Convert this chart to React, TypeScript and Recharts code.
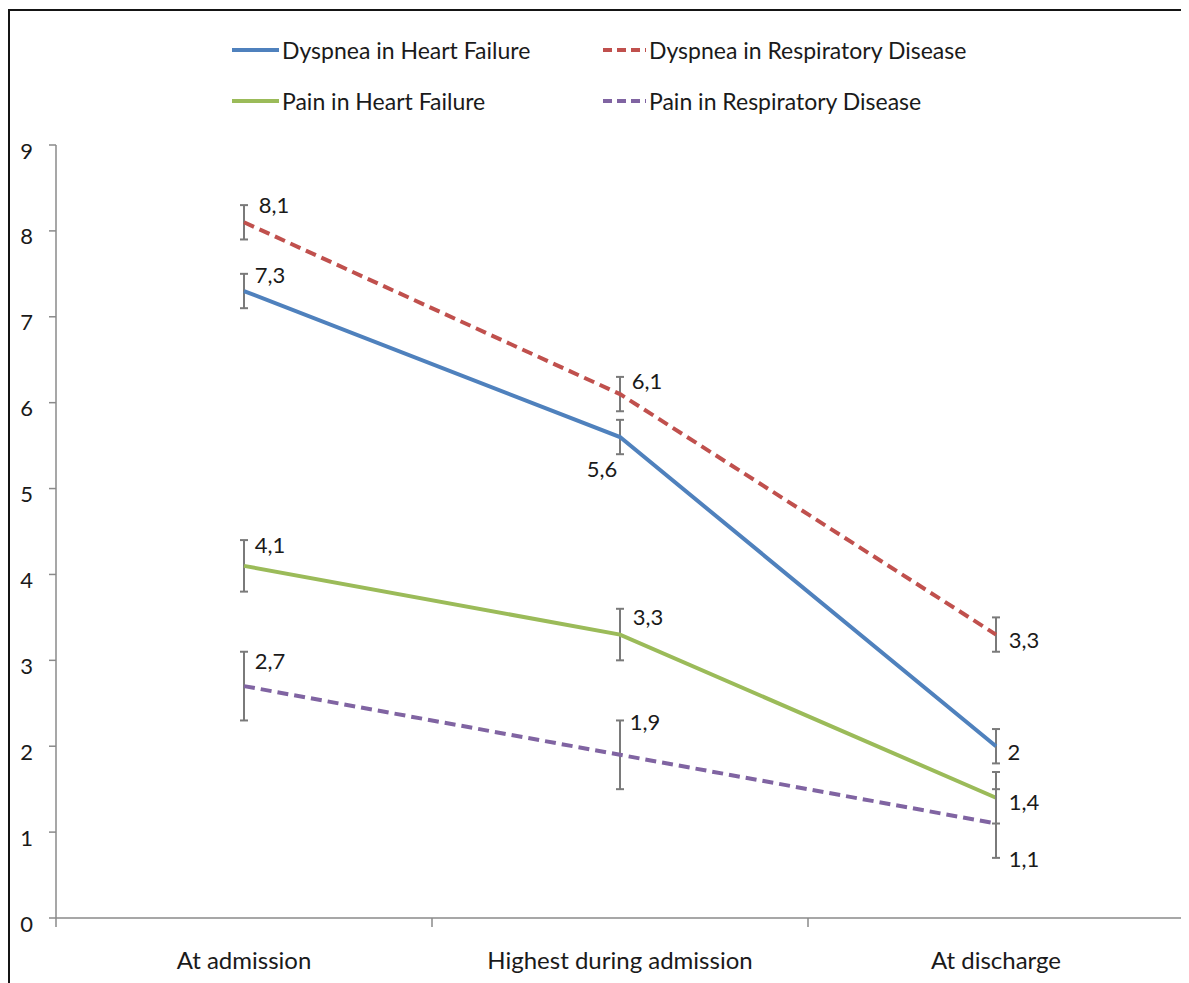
import React from "react";
import { LineChart, Line, XAxis, YAxis, ErrorBar, LabelList, Legend } from "recharts";

const categories = ["At admission", "Highest during admission", "At discharge"];
const dyspneaHeartFailure = [7.3, 5.6, 2.0];
const dyspneaRespiratory = [8.1, 6.1, 3.3];
const painHeartFailure = [4.1, 3.3, 1.4];
const painRespiratory = [2.7, 1.9, 1.1];
const errDyspneaHeartFailure = [0.2, 0.2, 0.2];
const errDyspneaRespiratory = [0.2, 0.2, 0.2];
const errPainHeartFailure = [0.3, 0.3, 0.3];
const errPainRespiratory = [0.4, 0.4, 0.4];
const yTicks = [0, 1, 2, 3, 4, 5, 6, 7, 8, 9];

const rows = categories.map((category, i) => ({
  category,
  dhf: dyspneaHeartFailure[i],
  dhfErr: errDyspneaHeartFailure[i],
  drd: dyspneaRespiratory[i],
  drdErr: errDyspneaRespiratory[i],
  phf: painHeartFailure[i],
  phfErr: errPainHeartFailure[i],
  prd: painRespiratory[i],
  prdErr: errPainRespiratory[i],
}));

const FONT = "Lato, 'Open Sans', sans-serif";
const W = 1179;
const H = 972;
const M = { top: 134, right: 5, left: 0, bottom: 5 };
const Y_W = 46;
const HALF_BAND = (W - M.left - M.right - Y_W) / categories.length / 2;
const AXIS = "#8a8a8a";
const ERR = "#7a7a7a";

const series = [
  { key: "dhf", name: "Dyspnea in Heart Failure", color: "#4f81bd", dash: undefined },
  { key: "drd", name: "Dyspnea in Respiratory Disease", color: "#c0504d", dash: "11 6" },
  { key: "phf", name: "Pain in Heart Failure", color: "#9bbb59", dash: undefined },
  { key: "prd", name: "Pain in Respiratory Disease", color: "#8064a2", dash: "11 6" },
];

// where each value label sits relative to its point
const labelOffsets: Record<string, [number, number][]> = {
  dhf: [[26, -17], [-18, 31], [18, 5]],
  drd: [[30, -18], [27, -14], [28, 5]],
  phf: [[26, -21], [28, -18], [28, 4]],
  prd: [[26, -26], [25, -33], [28, 35]],
};

const makeLabel = (key: string) => (props: any) => {
  const { x, y, value, index } = props;
  const [dx, dy] = labelOffsets[key][index];
  return (
    <text x={x + dx} y={y + dy} textAnchor="middle" dominantBaseline="central"
      fontFamily={FONT} fontSize={22} fill="#1a1a1a">
      {String(value).replace(".", ",")}
    </text>
  );
};

const XTick = (props: any) => {
  const { x, y, payload, index } = props;
  return (
    <g>
      <line x1={x - HALF_BAND} y1={y} x2={x - HALF_BAND} y2={y + 9} stroke={AXIS} strokeWidth={1.5} />
      {index === categories.length - 1 && (
        <line x1={x + HALF_BAND} y1={y} x2={x + HALF_BAND} y2={y + 9} stroke={AXIS} strokeWidth={1.5} />
      )}
      <text x={x} y={y + 41} textAnchor="middle" dominantBaseline="central"
        fontFamily={FONT} fontSize={24} fill="#1a1a1a">
        {payload.value}
      </text>
    </g>
  );
};

const YTick = (props: any) => {
  const { x, y, payload } = props;
  return (
    <text x={x} y={y + 5} textAnchor="end" dominantBaseline="central"
      fontFamily={FONT} fontSize={22} fill="#1a1a1a">
      {payload.value}
    </text>
  );
};

const LegendBox = () => {
  const cols = [222, 593];
  const rowsY = [39, 90];
  return (
    <svg width={W} height={120} style={{ display: "block" }}>
      {series.map((s, i) => {
        const x = cols[i % 2];
        const y = rowsY[Math.floor(i / 2)];
        const len = s.dash ? 43 : 47;
        return (
          <g key={s.key}>
            <line x1={x} y1={y} x2={x + len} y2={y} stroke={s.color} strokeWidth={4}
              strokeDasharray={s.dash ? "9 5" : undefined} />
            <text x={x + len + 3} y={y} dominantBaseline="central" fontFamily={FONT}
              fontSize={23} fill="#1a1a1a">
              {s.name}
            </text>
          </g>
        );
      })}
    </svg>
  );
};

export default function App() {
  return (
    <div style={{ marginTop: 1, width: 1181, height: 974, borderTop: "2px solid #151515", borderLeft: "2px solid #151515", background: "#fff" }}>
      <LineChart width={W} height={H} data={rows} margin={M}>
        <XAxis dataKey="category" scale="band" axisLine={{ stroke: AXIS, strokeWidth: 1.5 }}
          tickLine={false} tickSize={0} tickMargin={0} height={60} interval={0} tick={<XTick />} />
        <YAxis domain={[0, 9]} ticks={yTicks} width={Y_W} interval={0}
          axisLine={{ stroke: AXIS, strokeWidth: 1.5 }} tickLine={{ stroke: AXIS, strokeWidth: 1.5 }}
          tickSize={7} tickMargin={16} tick={<YTick />} />
        <Legend layout="horizontal" verticalAlign="middle" align="center"
          wrapperStyle={{ top: 0, left: 0, width: W, height: 120 }} content={() => <LegendBox />} />
        {series.map((s) => (
          <Line key={s.key} dataKey={s.key} name={s.name} stroke={s.color} strokeWidth={4}
            strokeDasharray={s.dash} dot={false} activeDot={false} isAnimationActive={false}>
            <ErrorBar dataKey={`${s.key}Err`} direction="y" width={4} stroke={ERR} strokeWidth={2}
              isAnimationActive={false} />
            <LabelList dataKey={s.key} content={makeLabel(s.key)} />
          </Line>
        ))}
      </LineChart>
    </div>
  );
}
